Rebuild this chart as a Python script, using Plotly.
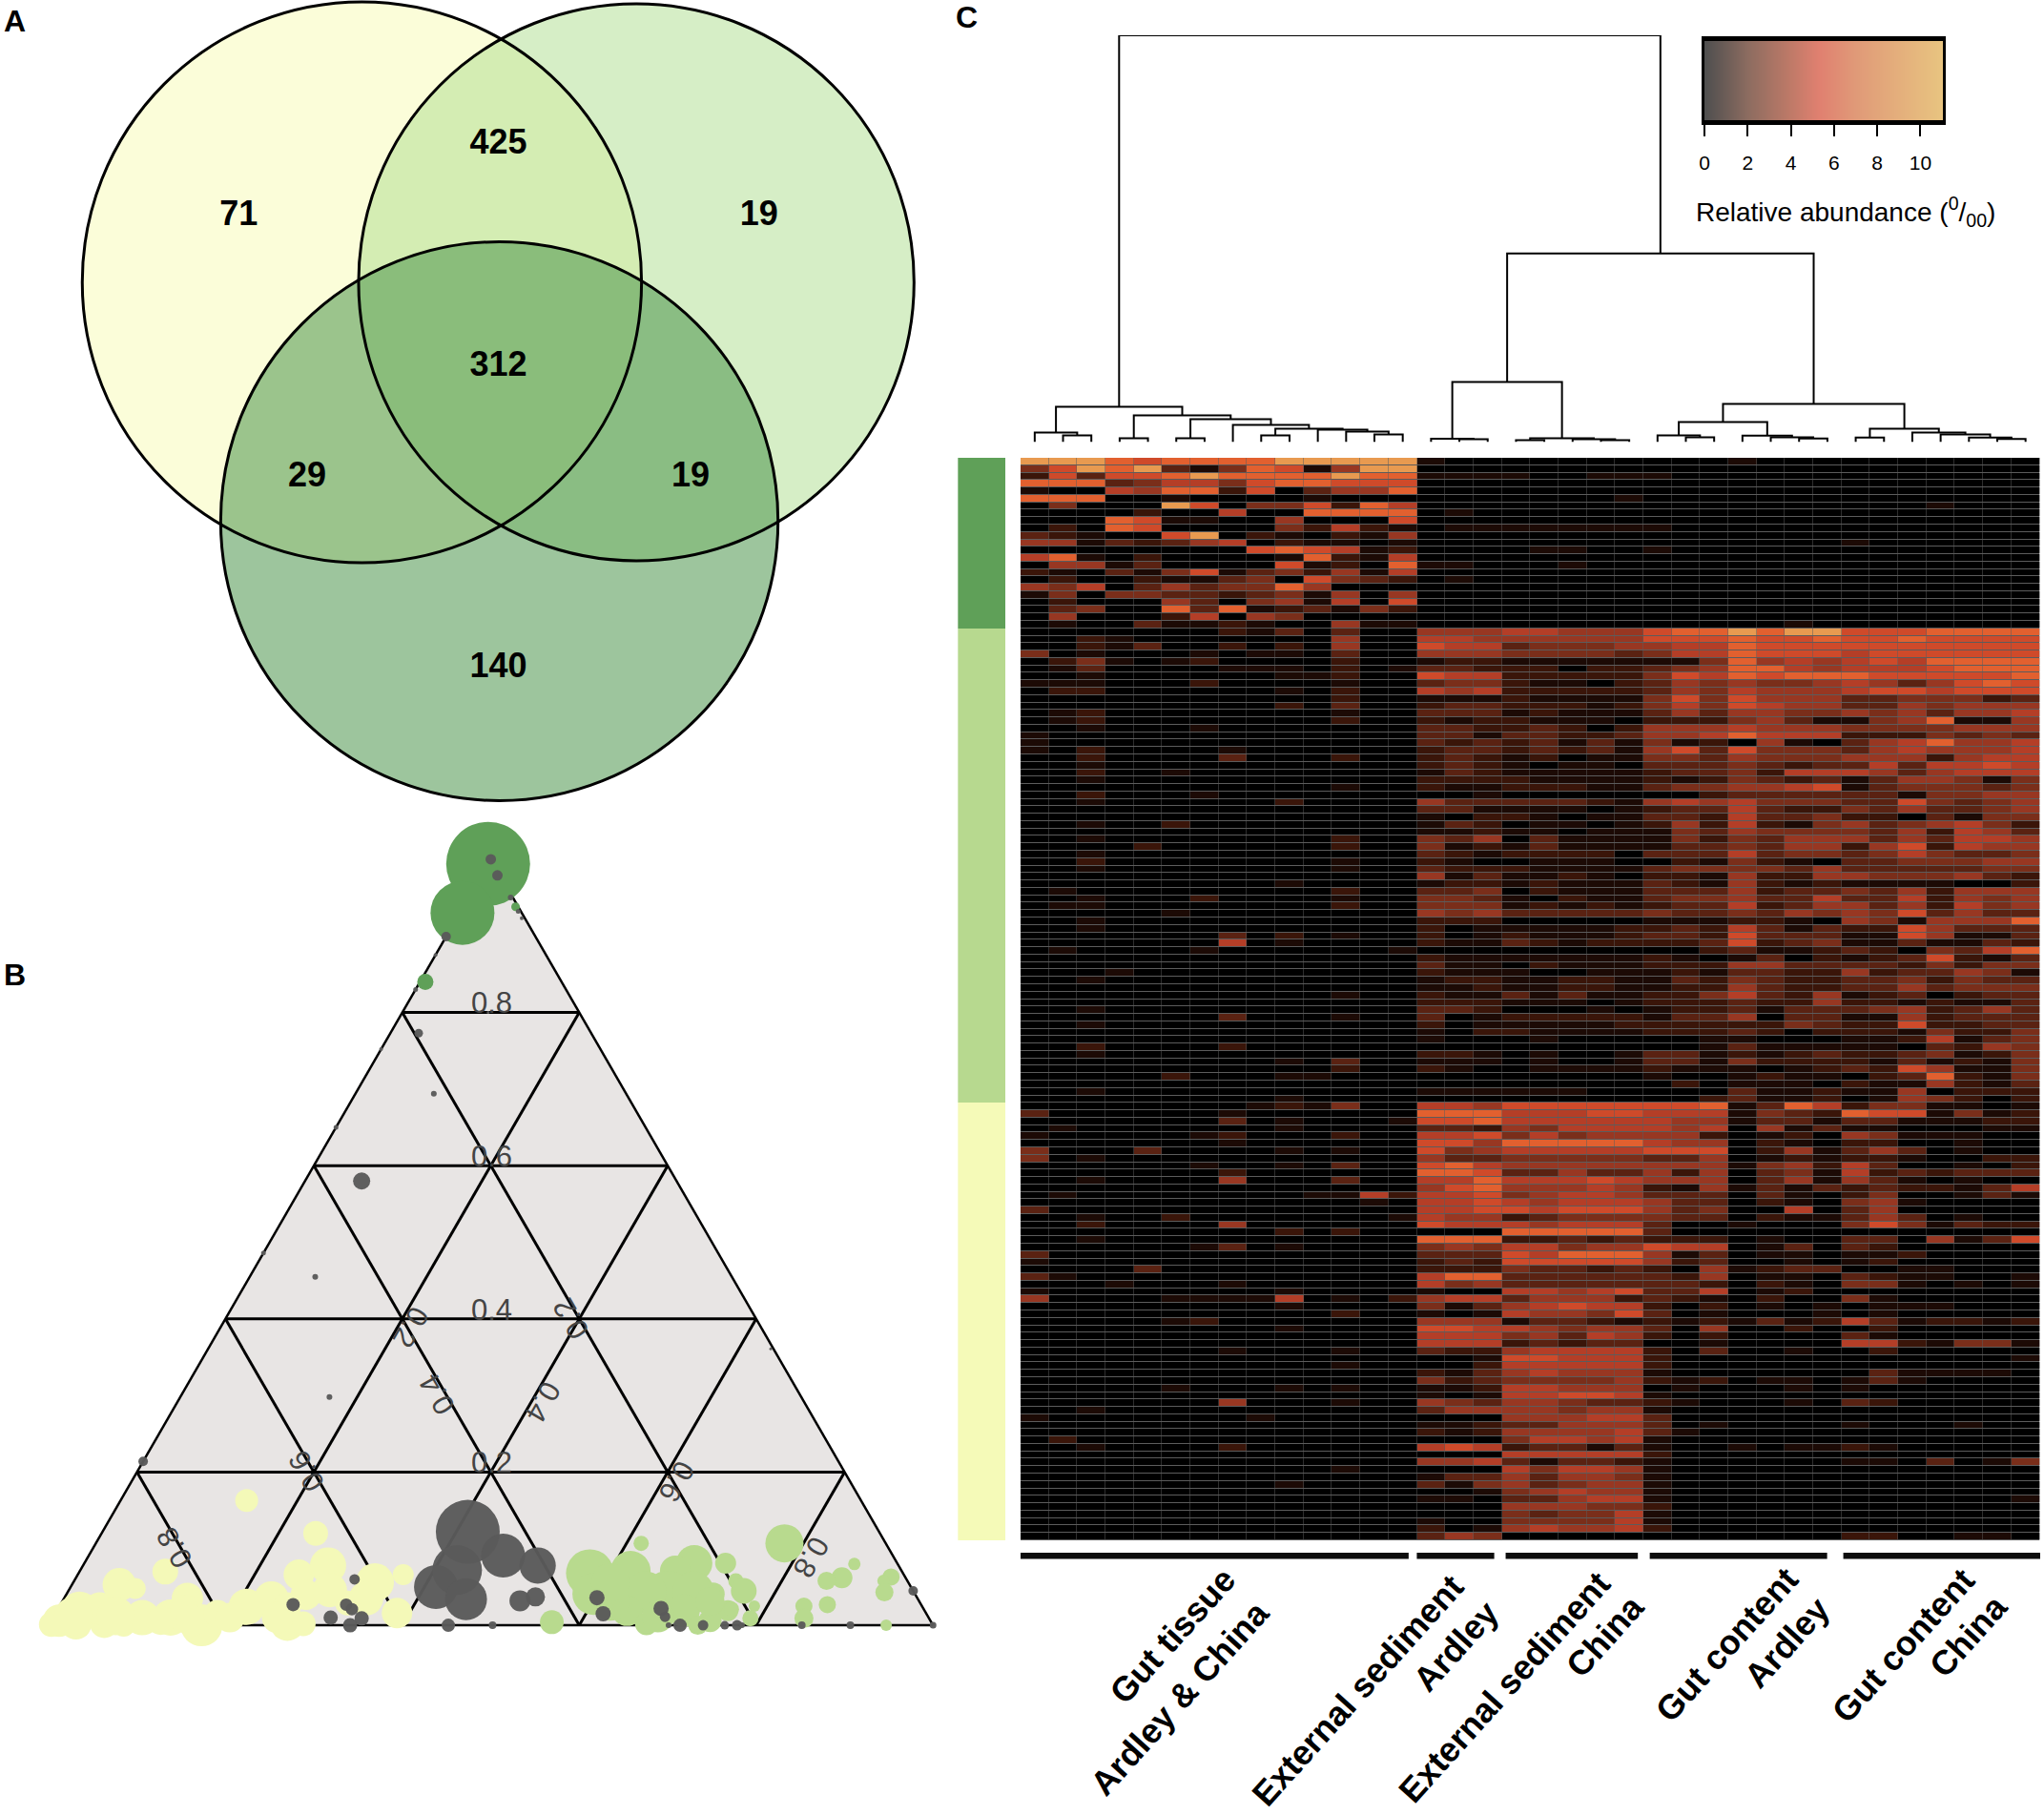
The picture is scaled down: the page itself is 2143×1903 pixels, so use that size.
import plotly.graph_objects as go

W, H = 2143, 1903

# ---------- panel A: Venn counts ----------
venn_counts = ["71", "425", "19", "312", "29", "19", "140"]

# ---------- panel B: ternary data (top fraction a, right fraction c, bubble size) ----------
yellow_a = [.070,.053,.048,.035,.010,0,.002,.019,.022,.006,.002,.001,.010,.006,.019,0,.006,.015,.024,.035,.066,.078,.120,.066,.056,.029,.016,.002,.002,.035,.040,.025,.163,.012,.012,.010,.046,.010]
yellow_c = [.097,.0535,.074,.1395,.101,.085,.062,.0255,.047,.009,.030,.0027,.133,.124,.1455,.173,.159,.1835,.212,.2345,.250,.277,.242,.368,.341,.3235,.386,.269,.287,.3415,.271,.2575,.1425,.022,.070,.200,.295,.254]
yellow_s = [27,35,22,33,37,24,30,40,34,34,33,26,38,30,33,44,33,29,38,36,32,38,26,22,40,26,32,36,26,36,32,29,24,40,40,31,36,33]

lgreen_a = [.004,.068,.041,.071,.107,.107,.081,.071,.081,.058,.045,.025,.009,.041,.019,.040,.043,.043,.019,.002,.019,.006,0,.080,.062,.058,.063,.058,.043,.027,.025,.009,0,.021,.031,.012,.056,.031]
lgreen_c = [.567,.578,.5955,.6225,.6165,.7785,.6895,.673,.725,.748,.7635,.7855,.789,.731,.7585,.680,.7075,.6535,.6445,.675,.7085,.745,.734,.871,.866,.8506,.921,.915,.9235,.867,.8415,.8495,.947,.7615,.6195,.683,.607,.7325]
lgreen_s = [25,50,44,42,16,40,38,32,22,16,27,12,17,24,22,50,44,44,32,24,34,24,20,13,22,19,18,13,19,18,18,20,12,16,40,34,40,30]

dgreen_a = [.994,.930,.938,.840]
dgreen_c = [.000,.003,.059,.006]
dgreen_s = [88,67,9,17]

gray_a = [1.0,.979,.950,.932,.923,.899,.875,.830,.800,.773,.752,.694,.650,.580,.486,.455,.298,.214,.361,.122,.091,.078,.072,.050,.034,.032,.037,.060,.027,.027,.021,.010,.009,0,0,0,.036,.015,.022,.011,0,0,0,0,0,0,0,0,.045,0]
gray_c = [0,.018,.0475,.065,.0735,0,0,0,.097,.032,0,.0886,0,.064,0,.074,.1686,0,.636,.413,.4685,.514,.426,.413,.455,.517,.532,.316,.263,.323,.3325,.314,.3495,.341,.452,.502,.602,.6195,.6815,.6915,.701,.714,.740,.7645,.7785,.784,.8516,.9065,.956,1.0]
gray_s = [11,11,6,5,4,10,4,5,3,9,4,6,5,18,5,6,6,10,3,67,46,38,52,46,44,22,20,11,14,13,13,15,15,15,14,8,16,16,16,11,6,14,11,9,11,6,8,8,10,7]

ternary_ticks = ["0.8", "0.6", "0.4", "0.2"]

# ---------- panel C: heat map levels, rows top to bottom; groups of 14/3/5/7/7 samples ----------
otu_group_sizes = [23, 64, 59]
abundance_levels = [
"99987888899999 100 00000 0001000 0000000",
"47989314871599 000 00000 0000000 0000000",
"27377898888988 111 10011 1000000 0000000",
"88834664788777 000 00000 0000000 0000000",
"10065882703558 000 00000 0000000 0000000",
"88800100001000 000 00001 0000000 0000000",
"04000970447286 000 00000 0000000 0001000",
"00002006008888 010 00000 0000000 0000000",
"00087110050007 000 00000 0000000 0000000",
"02087000042621 011 11111 1000000 0000000",
"32100790210215 000 00000 0000000 0000000",
"55132356021101 000 00000 0000000 1000000",
"00000000787612 000 01100 1000000 0000000",
"68102000018216 000 00000 0000000 0000000",
"05513000071208 110 00100 0000000 0000000",
"21031471342516 000 00000 0000000 0000000",
"02002113407432 010 00000 0000000 0000000",
"54603534485000 000 00000 0000000 0000000",
"14044332341505 000 00000 0000000 0000000",
"02000530451607 000 00000 0000000 0000000",
"03400838123142 000 00000 0000000 0000000",
"05000260540000 000 00000 0000000 0000000",
"01003112100511 000 00000 0000010 0000000",
"00000002130300 555 66555 7889899 7778888",
"00210000000500 665 55555 7778778 7787777",
"00213002020500 766 34445 5668777 7777777",
"40100010110300 555 44443 4668777 6777777",
"02410120000200 122 11111 1148565 6768888",
"01300001110201 332 22022 3458865 6667888",
"00100000011200 766 22222 4768788 8777778",
"11100020000100 344 21102 3545445 6535787",
"02200000010200 656 22222 3546555 6776777",
"00000000000200 111 21111 4747555 3344423",
"00000000020300 233 22212 4647655 3354555",
"01200000000100 333 12111 3535544 5453556",
"01200000000200 212 21110 2224531 1458115",
"00100010000000 332 23202 5556555 4444555",
"10000000000000 331 33223 5568666 2224343",
"10000000000000 323 23131 4120510 3568556",
"10200001000000 233 23231 5737444 3565556",
"00200003000200 232 12011 4435444 5552566",
"00100000000000 232 10110 3334323 3636676",
"00200100000000 132 11111 2334266 6535666",
"00100000000000 222 21111 2124323 1355414",
"00000000000100 211 22211 3445567 1344434",
"00200010000000 001 00000 0023333 3314455",
"00100000020000 533 33321 5656444 3374345",
"00000000000000 331 11101 2336322 4353345",
"00000000000000 102 21011 3326334 2203144",
"00100200000000 132 01101 2526214 5345642",
"00000000000000 112 11011 1435444 4352653",
"00100000000200 435 03111 1424355 5353665",
"00002000000200 412 13111 1334355 2572655",
"00100000000000 321 22220 3336344 3464334",
"00200000000100 210 01110 0214210 3344455",
"00100000000100 322 21111 3444435 3333344",
"00000000000000 513 11210 2215225 5444532",
"00000000010000 122 12111 3215212 1111002",
"01000000000200 334 02111 3335233 4352555",
"00100020000100 443 10211 3445336 3362545",
"01100000000200 444 12121 2336235 5352645",
"00000100000000 545 33333 4334354 5473533",
"00100000000000 222 00000 1112210 5415558",
"00100000000000 201 11112 2326313 2275333",
"00000003020100 201 21112 3327333 1175113",
"00000006010000 211 32122 2237234 1131132",
"01000010000001 000 00000 0023112 3204368",
"00000000000000 211 11111 2101302 1237213",
"00000000000000 311 02111 2225533 3324244",
"00010000000000 211 10011 1213322 5233541",
"00100000000000 122 11221 1324322 3342433",
"00000000000000 112 11221 1225322 3353444",
"00000000000100 211 31311 2246325 1230233",
"00000000000000 222 11101 2223225 2212113",
"00100000000000 332 00010 1223133 3452353",
"00000003000100 301 22222 1335033 1152333",
"00100000000000 201 11112 2222243 2272233",
"00000000000000 102 21111 2223202 2214224",
"00000000000000 100 01000 0011000 1126134",
"00200002000000 000 00000 0013111 1103254",
"00100000000000 221 01001 3312123 2234124",
"00000000010300 111 01001 3314222 2131214",
"00000000000200 210 01111 2111012 3275114",
"00000200011000 000 00000 1001211 0238214",
"00000000000000 000 00000 0201110 2115213",
"00100000000000 111 11100 0003112 1150222",
"00000000010000 000 00000 0023112 0154202",
"00000000121400 665 77777 7781386 2441101",
"30000001000000 888 66677 6661432 8771412",
"00000003010001 778 66666 6551331 3311122",
"01000000010000 332 54666 6560513 1100011",
"10000012000200 667 46455 5520120 5411100",
"00000001000000 775 88888 6550210 2200100",
"40003000010100 745 66666 7770251 3530100",
"40100000000000 533 44444 3350121 2210022",
"00000010010300 786 55555 5551452 6300102",
"00000002000000 887 33533 5250341 6232333",
"00100005000300 668 66676 5550351 5310100",
"00000000000000 578 55565 2151313 2322136",
"01000000001162 667 45665 3330310 2400131",
"00000000000010 667 65666 5330210 4510000",
"30000000000000 667 76777 5340060 3500000",
"00100200000001 655 23444 4330211 3530100",
"00200005000000 766 65666 3001000 4741322",
"00000000020200 000 88888 3000000 0000000",
"00100000000000 888 22323 2220100 3305137",
"00000013010000 454 66455 7660130 3200000",
"30000000000000 333 76888 5130110 1120000",
"10000000000000 232 77777 5230010 1200000",
"00003000000000 222 43323 2051233 0011000",
"31000000000000 688 33333 3250110 3211001",
"00010001000000 645 33333 3320210 4410101",
"10000000010000 100 66567 3360120 0000000",
"50000111160102 566 35552 3210200 4100000",
"00000000010000 413 56766 2020101 0111000",
"00000000000200 101 65547 3010001 0100000",
"00000120000000 555 13321 2121312 6312212",
"00000000010000 776 65455 3050020 0200000",
"00000000000000 666 45365 2020000 3100000",
"00000000000000 666 23233 0010000 6621441",
"00000001000100 322 56666 2030010 0200000",
"00000000000000 001 77666 2000000 0000001",
"00000000000100 002 66666 2000000 0000000",
"00000000000000 213 56555 1000000 0311110",
"00000000000000 423 44445 2120110 1310000",
"00000100010100 112 66555 0100010 1000000",
"00000000000000 101 66776 1000000 0000000",
"00000005000100 543 55433 2100010 3200000",
"00100000000000 355 55455 1000000 0000000",
"10000000100000 000 55566 3000000 0000000",
"00000000000000 112 33555 3010000 1000100",
"00000000000000 212 55556 3100000 0000000",
"02000000000000 000 46656 1000000 0000000",
"00100002000000 676 23313 1001011 2100000",
"00000000000000 000 66666 2000000 0000000",
"00000000000000 556 31332 1000000 1103014",
"00000000000100 000 64665 1000000 0000000",
"00000000000000 133 53554 1000000 0000000",
"00000000010000 314 53455 1000000 0000000",
"00000000000000 001 45655 1000000 0000000",
"00000000000000 110 33566 1000000 0000001",
"00000000000000 000 55544 2000000 0000000",
"00000000000000 000 43446 1000000 0000000",
"00000000000000 100 44446 1000000 0000000",
"00000000000000 201 56556 2000000 0000000",
"00000000000000 354 00000 0000000 2200110",
]

# dendrogram: node ids 0-35 are samples; each merge creates the next id (36, 37, ...)
dendro_left = [1,0,3,5,8,12,11,10,40,7,39,38,37, 15,14,17,20,19,51,50, 23,22,27,26,25,57, 29,34,33,32,31,62,61,55,48]
dendro_right = [2,36,4,6,9,13,41,42,43,44,45,46,47, 16,49,18,21,52,53,54, 24,56,28,58,59,60, 30,35,63,64,65,66,67,68,69]
dendro_height = [7,10,4,4,7,8,11,13,14,18,24,28,37, 3,3.5,2,2,3,4,63, 5,7,3.7,5,6.7,21, 4.7,3.3,4.7,8,10,14,40,198,427]

legend_ticks = [0, 2, 4, 6, 8, 10]
legend_values = [0, 1, 2, 3, 4, 5, 6, 7, 8, 9, 10, 11]

pos = {i: float(i) for i in range(36)}
hgt = {i: 0.0 for i in range(36)}
dx, dy = [], []
for k, (l, r, h) in enumerate(zip(dendro_left, dendro_right, dendro_height)):
    nid = 36 + k
    dx += [pos[l], pos[l], pos[r], pos[r], None]
    dy += [hgt[l], h, h, hgt[r], None]
    pos[nid] = (pos[l] + pos[r]) / 2
    hgt[nid] = h

rows = [r.replace(" ", "").ljust(36, "0")[:36] for r in abundance_levels]
z = [[int(ch) for ch in r] for r in rows]
side = []
for g, n in enumerate(otu_group_sizes):
    side += [[g]] * n

def xd(a, b): return [a / W, b / W]
def yd(top, bottom): return [1 - bottom / H, 1 - top / H]

FONT = "Liberation Sans"
fig = go.Figure()

heat_colors = ["#000000", "#1c0a05", "#3a1509", "#5a2212", "#7a2e1a", "#983722", "#b43e27", "#cf4a2a", "#e2602f", "#e89a50"]
fig.add_trace(go.Heatmap(z=z, x=list(range(36)), y=list(range(len(z))), xaxis="x2", yaxis="y2",
                         zmin=0, zmax=9, showscale=False, xgap=0.5, ygap=1,
                         colorscale=[[i / 9, c] for i, c in enumerate(heat_colors)]))
fig.add_trace(go.Heatmap(z=side, x=[0], y=list(range(len(side))), xaxis="x3", yaxis="y2", zmin=0, zmax=2,
                         showscale=False,
                         colorscale=[[0, "#5fa058"], [0.25, "#5fa058"], [0.25, "#b7d98f"], [0.75, "#b7d98f"], [0.75, "#f5fab8"], [1, "#f5fab8"]]))
fig.add_trace(go.Scatter(x=dx, y=dy, xaxis="x2", yaxis="y3", mode="lines",
                         line=dict(color="black", width=2), hoverinfo="skip", showlegend=False))
fig.add_trace(go.Heatmap(z=[legend_values], x=legend_values, y=[0], xaxis="x4", yaxis="y4", zmin=0, zmax=11,
                         showscale=False, zsmooth="best",
                         colorscale=[[0, "#4f4f4f"], [2 / 11, "#8c6c60"], [4 / 11, "#c07a68"], [5.3 / 11, "#e08070"],
                                     [7 / 11, "#e09a78"], [1, "#e8c480"]]))
venn_x = [249, 522, 796, 522, 321, 724, 522]
venn_y = [227, 152, 227, 385, 501, 501, 701]
fig.add_trace(go.Scatter(x=venn_x, y=venn_y, mode="text", text=venn_counts, xaxis="x", yaxis="y",
                         textfont=dict(family=FONT, size=36, color="black", weight="bold"),
                         textposition="middle center", hoverinfo="skip", showlegend=False))

def tern(a, c, s, col, op=1.0):
    b = [max(0.0, 1 - p - q) for p, q in zip(a, c)]
    fig.add_trace(go.Scatterternary(a=a, b=b, c=c, mode="markers", cliponaxis=False, showlegend=False,
                                    marker=dict(size=s, color=col, opacity=op, line=dict(width=0))))
tern(yellow_a, yellow_c, yellow_s, "#f4f9b8")
tern(lgreen_a, lgreen_c, lgreen_s, "#b8da8e")
tern(dgreen_a, dgreen_c, dgreen_s, "#5fa058")
tern(gray_a, gray_c, gray_s, "#5a5a5a", 0.97)

hidden = dict(visible=False, showgrid=False, zeroline=False)
def taxis(lw):
    return dict(title=dict(text=""), tick0=0.2, dtick=0.2, showticklabels=False, ticks="", showgrid=True,
                gridcolor="black", gridwidth=2.5, linecolor="black", linewidth=lw, min=0, layer="below traces")
fig.update_layout(
    width=W, height=H, margin=dict(l=0, r=0, t=0, b=0), paper_bgcolor="white", plot_bgcolor="rgba(0,0,0,0)",
    showlegend=False,
    xaxis=dict(hidden, range=[0, W], domain=[0, 1]),
    yaxis=dict(hidden, range=[H, 0], domain=[0, 1]),
    xaxis2=dict(hidden, range=[-0.5, 35.5], domain=xd(1071, 2142.5), anchor="y2"),
    yaxis2=dict(hidden, range=[len(z) - 0.5, -0.5], domain=yd(480, 1615), anchor="x2"),
    xaxis3=dict(hidden, range=[-0.5, 0.5], domain=xd(1005, 1055), anchor="y2"),
    yaxis3=dict(hidden, range=[0, 427], domain=yd(37, 463.5), anchor="x2"),
    xaxis4=dict(range=[0, 11.05], domain=xd(1790, 2041), anchor="y4", tickvals=legend_ticks, ticks="outside",
                ticklen=12, tickwidth=1.5, tickcolor="black", showline=True, linecolor="black", linewidth=5,
                mirror=True, showgrid=False, zeroline=False, ticklabelstandoff=10,
                tickfont=dict(family=FONT, size=21, color="black")),
    yaxis4=dict(range=[-0.5, 0.5], domain=yd(43, 126), anchor="x4", showticklabels=False, ticks="", showgrid=False,
                zeroline=False, showline=True, linecolor="black", linewidth=2.5, mirror=True),
    ternary=dict(domain=dict(x=xd(49, 979), y=yd(900, 1705)), bgcolor="#e8e5e4", sum=1,
                 aaxis=taxis(2.5), baxis=taxis(2.5), caxis=taxis(2.5)),
)

shapes = []
circles = [(378.5, 296, 294, "rgba(247,252,185,0.55)"),
           (667, 296, 292, "rgba(173,221,142,0.5)"),
           (523, 546.5, 293, "rgba(76,150,76,0.55)")]
for (cx, cy, r, col) in circles:
    shapes.append(dict(type="circle", xref="x", yref="y", x0=cx - r, x1=cx + r, y0=cy - r, y1=cy + r,
                       fillcolor=col, line=dict(width=0), layer="below"))
for (cx, cy, r, col) in circles:
    shapes.append(dict(type="circle", xref="x", yref="y", x0=cx - r, x1=cx + r, y0=cy - r, y1=cy + r,
                       fillcolor="rgba(0,0,0,0)", line=dict(color="black", width=3), layer="above"))
shapes.append(dict(type="rect", xref="x2", yref="y2", x0=-0.5, x1=35.5, y0=-0.5, y1=len(z) - 0.5,
                   fillcolor="#5c5c5c", line=dict(width=0), layer="below"))
for x0, x1 in [(1071, 1479), (1487.6, 1569), (1581, 1720), (1732.5, 1919), (1936, 2143)]:
    shapes.append(dict(type="rect", xref="x", yref="y", x0=x0, x1=x1, y0=1628, y1=1634.5,
                       fillcolor="#0d0d0d", line=dict(width=0)))
fig.update_layout(shapes=shapes)

ann = []
def text(x, y, s, size, bold=False, angle=0, color="black"):
    ann.append(dict(x=x, y=y, xref="x", yref="y", text=s, showarrow=False, textangle=angle,
                    xanchor="center", yanchor="middle",
                    font=dict(family=FONT, size=size, color=color, weight="bold" if bold else "normal")))
text(14, 22, "A", 32, True)
text(14, 1022, "B", 32, True)
text(1014, 18, "C", 32, True)
gc = "#444444"
for lab, y in zip(ternary_ticks, [1051, 1212, 1373, 1533]):
    text(515, y, lab, 31, color=gc)
text(430, 1392, "0.2", 31, angle=120, color=gc)
text(598, 1383, "0.2", 31, angle=-120, color=gc)
text(457, 1462, "0.4", 31, angle=-120, color=gc)
text(569, 1470, "0.4", 31, angle=120, color=gc)
text(320, 1543, "0.6", 31, angle=-120, color=gc)
text(710, 1553, "0.6", 31, angle=120, color=gc)
text(181, 1623, "0.8", 31, angle=-120, color=gc)
text(851, 1633, "0.8", 31, angle=120, color=gc)
for x, y, s in [(1230, 1715, "Gut tissue"), (1238, 1780, "Ardley &amp; China"),
                (1425, 1772, "External sediment"), (1528, 1726, "Ardley"),
                (1579, 1769, "External sediment"), (1685, 1715, "China"),
                (1813, 1724, "Gut content"), (1876, 1722, "Ardley"),
                (1998.5, 1725, "Gut content"), (2067, 1715, "China")]:
    text(x, y, s, 36, True, angle=-48)
text(1938, 222, "Relative abundance (<sup>0</sup>/<sub>00</sub>)", 28)
fig.update_layout(annotations=ann)

fig.write_html("out.html", config={"displayModeBar": False},
               post_script="document.body.style.margin='0 0 0 -4px';")
